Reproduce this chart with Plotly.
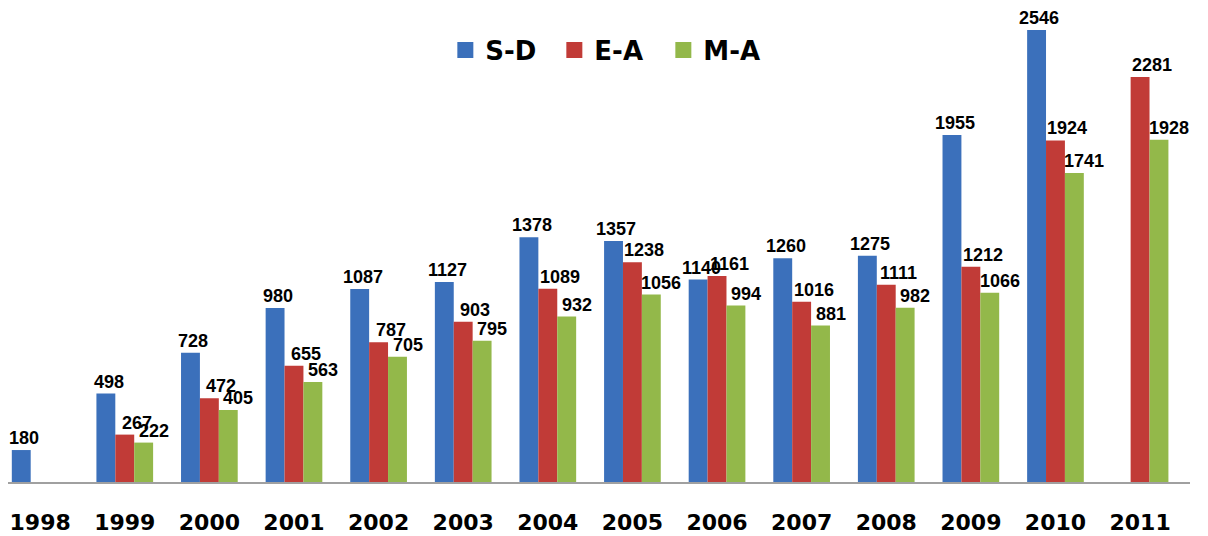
import plotly.graph_objects as go

years = ["1998", "1999", "2000", "2001", "2002", "2003", "2004",
         "2005", "2006", "2007", "2008", "2009", "2010", "2011"]
sd = [180, 498, 728, 980, 1087, 1127, 1378, 1357, 1140, 1260, 1275, 1955, 2546, None]
ea = [None, 267, 472, 655, 787, 903, 1089, 1238, 1161, 1016, 1111, 1212, 1924, 2281]
ma = [None, 222, 405, 563, 705, 795, 932, 1056, 994, 881, 982, 1066, 1741, 1928]

# name, values, colour, label x-shift in px (bar offset in group + small nudge)
series = [("S-D", sd, "#3b70bb", -16), ("E-A", ea, "#c13b37", 12), ("M-A", ma, "#93b84a", 29)]

fig = go.Figure()
for name, vals, color, shift in series:
    fig.add_trace(go.Bar(
        x=years, y=vals, name=name, showlegend=False,
        marker=dict(color=color, line=dict(width=0)),
    ))
    # legend-only entry with a bigger square swatch
    fig.add_trace(go.Scatter(
        x=[None], y=[None], name=name, mode="markers",
        marker=dict(symbol="square", size=20, color=color),
    ))
    for i, v in enumerate(vals):
        if v is None:
            continue
        # category axis: annotation x is the category index
        fig.add_annotation(
            x=i, y=v, text=str(v), showarrow=False,
            xanchor="center", yanchor="bottom", xshift=shift, yshift=0,
            font=dict(family="Liberation Sans", size=18, color="black", weight="bold"),
        )

fig.update_layout(
    width=1208, height=536,
    margin=dict(l=0, r=26, t=0, b=62, autoexpand=False),
    barmode="group",
    bargap=0.33, bargroupgap=0,
    plot_bgcolor="white", paper_bgcolor="white",
    showlegend=True,
    legend=dict(
        orientation="h", x=0.370, xanchor="left", y=0.911, yanchor="middle",
        font=dict(family="DejaVu Sans", size=26, color="black", weight="bold"),
        itemwidth=30, traceorder="normal", itemsizing="trace",
        entrywidth=64, entrywidthmode="pixels",
    ),
    xaxis=dict(
        type="category", range=[-0.38, 13.59],
        showline=True, linecolor="#a0a0a0", linewidth=2,
        ticks="", showgrid=False, automargin=False,
        tickfont=dict(family="DejaVu Sans", size=22, color="black", weight="bold"),
        ticklabelstandoff=20,
    ),
    yaxis=dict(range=[0, 2670], visible=False, showgrid=False, automargin=False),
)

fig.write_html("out.html")
